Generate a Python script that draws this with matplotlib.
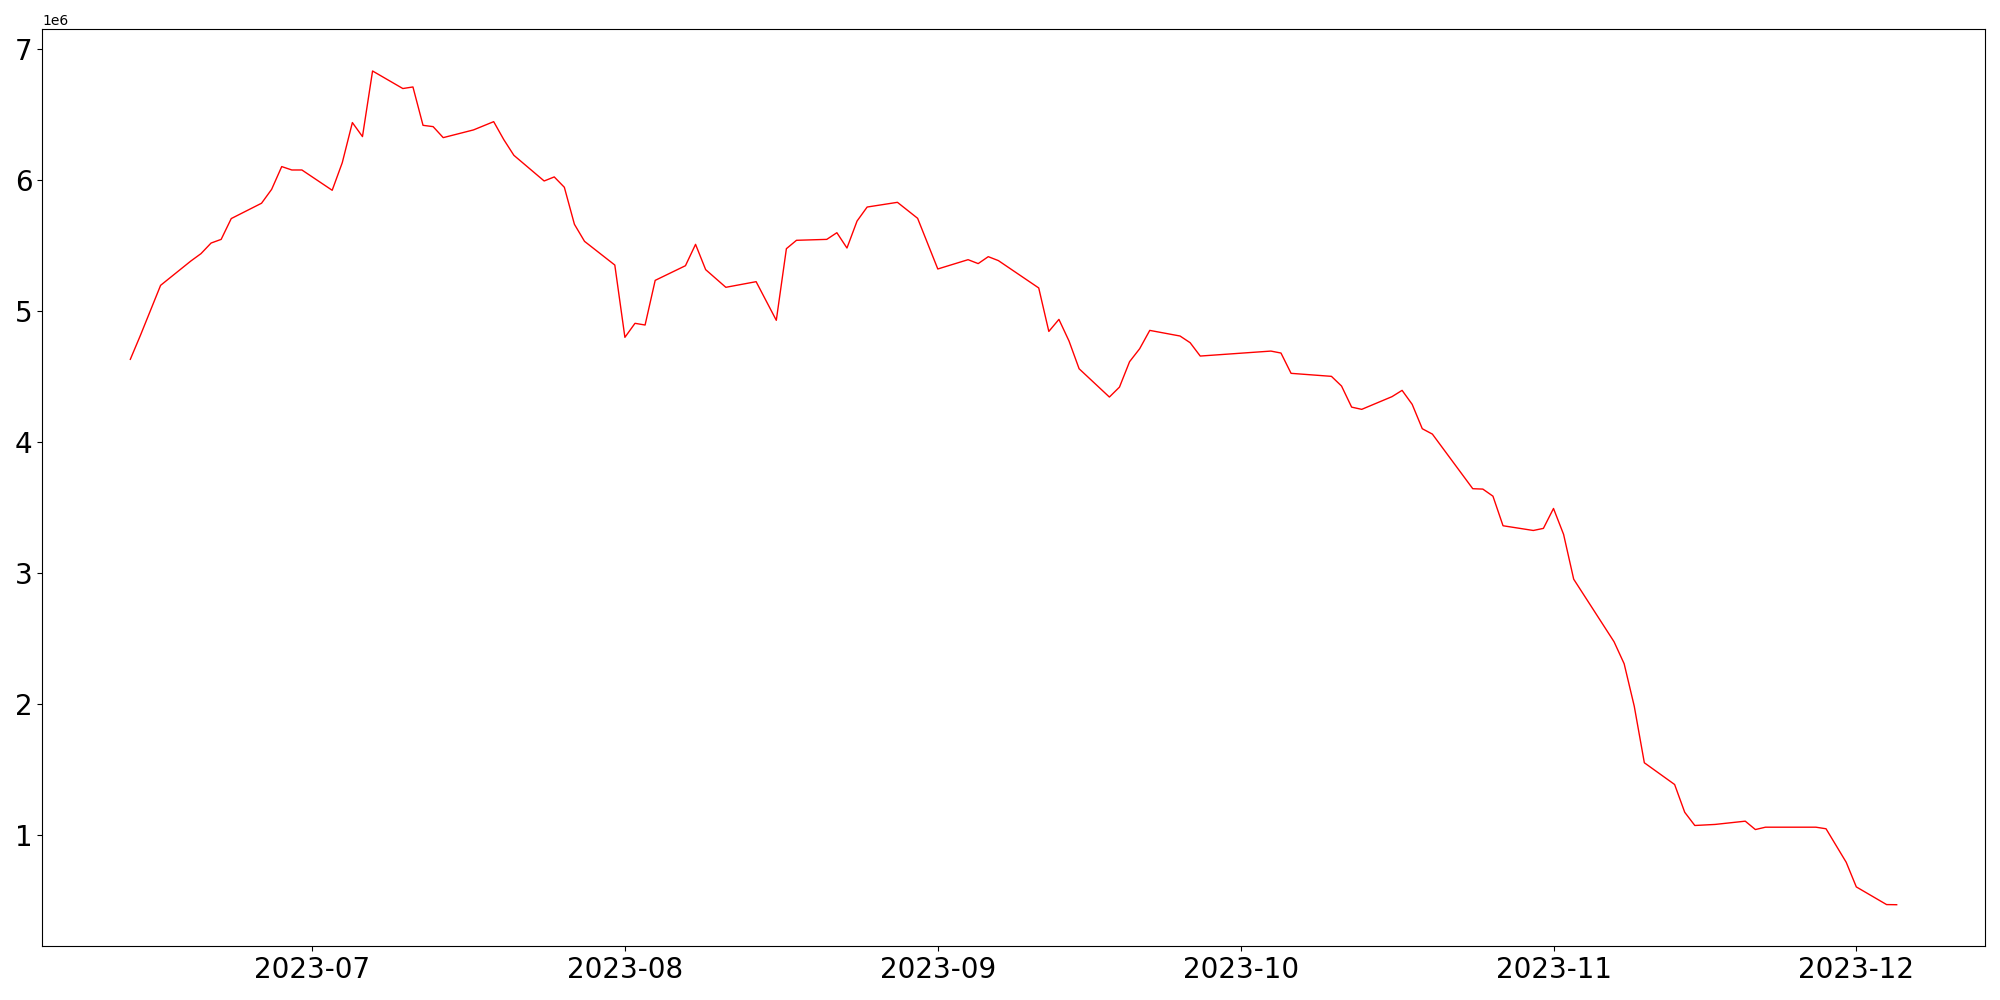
import matplotlib
matplotlib.use("Agg")
import matplotlib.pyplot as plt
import pandas as pd


DATES = [
    "2023-06-13", "2023-06-14", "2023-06-16", "2023-06-19", "2023-06-20",
    "2023-06-21", "2023-06-22", "2023-06-23", "2023-06-26", "2023-06-27",
    "2023-06-28", "2023-06-29", "2023-06-30", "2023-07-03", "2023-07-04",
    "2023-07-05", "2023-07-06", "2023-07-07", "2023-07-10", "2023-07-11",
    "2023-07-12", "2023-07-13", "2023-07-14", "2023-07-17", "2023-07-19",
    "2023-07-20", "2023-07-21", "2023-07-24", "2023-07-25", "2023-07-26",
    "2023-07-27", "2023-07-28", "2023-07-31", "2023-08-01", "2023-08-02",
    "2023-08-03", "2023-08-04", "2023-08-07", "2023-08-08", "2023-08-09",
    "2023-08-11", "2023-08-14", "2023-08-16", "2023-08-17",
    "2023-08-18", "2023-08-21", "2023-08-22", "2023-08-23", "2023-08-24",
    "2023-08-25", "2023-08-28", "2023-08-30", "2023-09-01", "2023-09-04",
    "2023-09-05", "2023-09-06", "2023-09-07", "2023-09-11", "2023-09-12",
    "2023-09-13", "2023-09-14", "2023-09-15", "2023-09-18", "2023-09-19",
    "2023-09-20", "2023-09-21", "2023-09-22", "2023-09-25", "2023-09-26",
    "2023-09-27", "2023-10-04", "2023-10-05", "2023-10-06", "2023-10-10",
    "2023-10-11", "2023-10-12", "2023-10-13", "2023-10-16", "2023-10-17",
    "2023-10-18", "2023-10-19", "2023-10-20", "2023-10-24", "2023-10-25",
    "2023-10-26", "2023-10-27", "2023-10-30", "2023-10-31", "2023-11-01",
    "2023-11-02", "2023-11-03", "2023-11-07", "2023-11-08", "2023-11-09",
    "2023-11-10", "2023-11-13", "2023-11-14", "2023-11-15", "2023-11-17",
    "2023-11-20", "2023-11-21", "2023-11-22", "2023-11-27", "2023-11-28",
    "2023-11-30", "2023-12-01", "2023-12-04", "2023-12-05",
]

VALUES = [
    4632000, 4815000, 5197000, 5383000, 5439000,
    5520000, 5548000, 5707000, 5824000, 5930000,
    6104000, 6078000, 6078000, 5923000, 6134000,
    6440000, 6333000, 6834000, 6700000, 6712000,
    6419000, 6409000, 6325000, 6384000, 6447000,
    6310000, 6190000, 5994000, 6025000, 5946000,
    5663000, 5533000, 5352000, 4800000, 4907000,
    4894000, 5235000, 5347000, 5510000, 5317000,
    5182000, 5225000, 4930000, 5477000,
    5541000, 5548000, 5599000, 5482000, 5688000,
    5795000, 5831000, 5709000, 5322000, 5393000,
    5363000, 5416000, 5386000, 5177000, 4845000,
    4937000, 4772000, 4560000, 4344000, 4420000,
    4614000, 4713000, 4853000, 4810000, 4759000,
    4657000, 4695000, 4680000, 4525000, 4502000,
    4428000, 4267000, 4250000, 4347000, 4395000,
    4288000, 4102000, 4061000, 3644000, 3641000,
    3587000, 3361000, 3325000, 3341000, 3493000,
    3295000, 2953000, 2475000, 2307000, 1983000,
    1551000, 1385000, 1173000, 1072000, 1080000,
    1105000, 1041000, 1059000, 1059000, 1047000,
    791000, 603000, 468000, 467000,
]


def main() -> None:
    dates = pd.to_datetime(DATES)
    fig, ax = plt.subplots(figsize=(20, 10), dpi=100)
    ax.plot(dates, VALUES, color="red", linewidth=1)
    ax.tick_params(axis="both", labelsize=20)
    fig.subplots_adjust(left=0.021, right=0.9925, top=0.9707, bottom=0.0536)
    fig.savefig("out.png", dpi=100)
    plt.close(fig)


if __name__ == "__main__":
    main()
